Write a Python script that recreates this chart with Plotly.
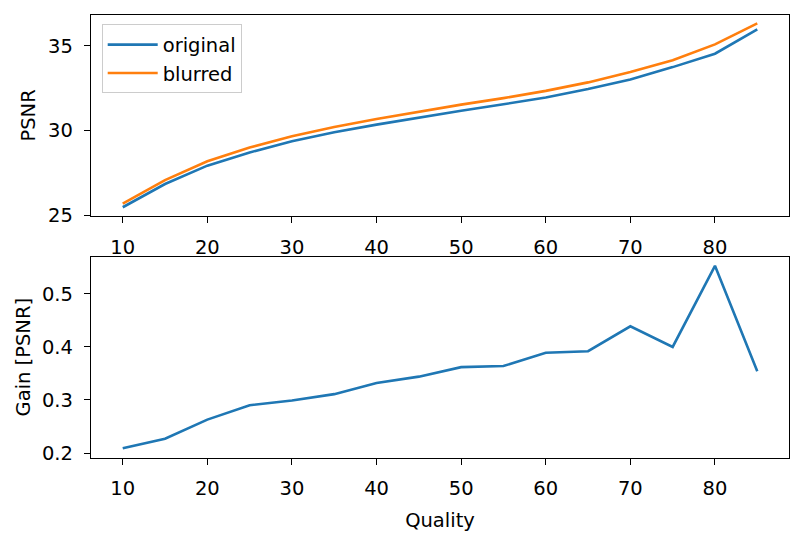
import plotly.graph_objects as go

quality = [10, 15, 20, 25, 30, 35, 40, 45, 50, 55, 60, 65, 70, 75, 80, 85]
psnr_original = [25.48, 26.85, 27.93, 28.71, 29.37, 29.90, 30.35, 30.78, 31.17, 31.55,
                 31.95, 32.45, 33.01, 33.74, 34.53, 35.97]
psnr_blurred = [25.69, 27.08, 28.19, 29.00, 29.67, 30.21, 30.68, 31.12, 31.53, 31.91,
                32.34, 32.84, 33.45, 34.14, 35.08, 36.32]
gain = [0.209, 0.227, 0.263, 0.290, 0.299, 0.311, 0.332, 0.344, 0.362, 0.364,
        0.389, 0.392, 0.439, 0.400, 0.553, 0.354]

BLUE = "#1f77b4"
ORANGE = "#ff7f0e"
FONT = "DejaVu Sans"
FS = 19.5
W, H = 804, 547

fig = go.Figure()
fig.add_trace(go.Scatter(x=quality, y=psnr_original, mode="lines", name="original",
                         line=dict(color=BLUE, width=2.6), xaxis="x", yaxis="y"))
fig.add_trace(go.Scatter(x=quality, y=psnr_blurred, mode="lines", name="blurred",
                         line=dict(color=ORANGE, width=2.6), xaxis="x", yaxis="y"))
fig.add_trace(go.Scatter(x=quality, y=gain, mode="lines", name="gain", showlegend=False,
                         line=dict(color=BLUE, width=2.6), xaxis="x2", yaxis="y2"))

xdom = [91 / W, 789 / W]
top_dom = [1 - 220.5 / H, 1 - 15 / H]
bot_dom = [1 - 467 / H, 1 - 262 / H]

axis_common = dict(showline=True, mirror=True, linecolor="black", linewidth=1.4,
                   ticks="outside", ticklen=6, tickwidth=1.4, tickcolor="black",
                   showgrid=False, zeroline=False, ticklabelstandoff=7,
                   tickfont=dict(family=FONT, size=FS, color="black"))

fig.update_layout(
    width=W, height=H,
    margin=dict(l=0, r=0, t=0, b=0),
    paper_bgcolor="white", plot_bgcolor="white",
    font=dict(family=FONT, size=FS, color="black"),
    xaxis=dict(domain=xdom, anchor="y", range=[6.25, 88.75], tick0=10, dtick=10, **axis_common),
    yaxis=dict(domain=top_dom, anchor="x", range=[24.96, 36.83], tick0=25, dtick=5,
               title=dict(text="PSNR", font=dict(family=FONT, size=FS), standoff=7), **axis_common),
    xaxis2=dict(domain=xdom, anchor="y2", range=[6.25, 88.75], tick0=10, dtick=10,
                title=dict(text="Quality", font=dict(family=FONT, size=FS), standoff=14), **axis_common),
    yaxis2=dict(domain=bot_dom, anchor="x2", range=[0.1913, 0.5702], tick0=0.2, dtick=0.1,
                tickformat=".1f",
                title=dict(text="Gain [PSNR]", font=dict(family=FONT, size=FS), standoff=6), **axis_common),
    legend=dict(x=101.7 / W, y=1 - 25 / H, xanchor="left", yanchor="top",
                bgcolor="rgba(255,255,255,0.8)", bordercolor="#cccccc", borderwidth=1,
                font=dict(family=FONT, size=FS, color="black"), tracegroupgap=0,
                itemwidth=50),
    showlegend=True,
)

fig.write_html("out.html")
